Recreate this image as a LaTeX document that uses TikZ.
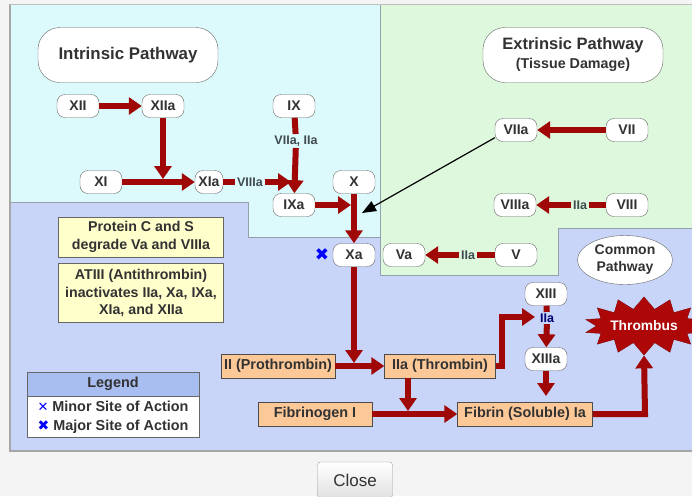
\documentclass[tikz,border=0pt]{standalone}
\usepackage{fontspec}
\setmainfont{Liberation Sans}
\newfontfamily\symfont{DejaVu Sans}
\usetikzlibrary{arrows.meta,shapes.geometric,shapes.symbols}

\definecolor{pagebg}{RGB}{244,244,244}
\definecolor{cyanbg}{RGB}{220,250,252}
\definecolor{greenbg}{RGB}{222,248,222}
\definecolor{bluebg}{RGB}{200,212,248}
\definecolor{legendhead}{RGB}{168,190,240}
\definecolor{noteyellow}{RGB}{255,255,204}
\definecolor{stageorange}{RGB}{252,200,152}
\definecolor{rxnred}{RGB}{160,8,8}
\definecolor{inkgray}{RGB}{50,50,50}
\definecolor{labelgray}{RGB}{64,74,80}
\definecolor{edgegray}{RGB}{150,160,170}

\tikzset{
  factor/.style={draw=black!60, fill=white, rounded corners=8pt, minimum width=42pt,
    minimum height=23pt, inner xsep=3pt, inner ysep=0pt, text=inkgray,
    font=\bfseries\fontsize{14}{16}\selectfont},
  title/.style={draw=black!60, fill=white, rounded corners=22pt, minimum width=180pt,
    minimum height=55pt, align=center, text=inkgray},
  note/.style={draw=black!60, fill=noteyellow, minimum width=165pt, align=center,
    inner ysep=2pt, text=inkgray, font=\bfseries\fontsize{14.2}{17.5}\selectfont},
  stage/.style={draw=black!70, fill=stageorange, minimum height=24pt, inner xsep=2pt,
    inner ysep=0pt, text=inkgray, font=\bfseries\fontsize{14.4}{16}\selectfont},
  via/.style={inner sep=1.5pt, text=labelgray, font=\bfseries\fontsize{12.5}{14}\selectfont},
  rxn/.style={draw=rxnred, line width=6pt, -{Triangle[width=17pt,length=13pt]}},
  rxnline/.style={draw=rxnred, line width=6pt},
  hint/.style={draw=black, line width=1.2pt, -{Triangle[width=11pt,length=14pt]}}
}

\begin{document}
\begin{tikzpicture}[x=1pt, y=-1pt]
  \useasboundingbox (0,0) rectangle (692,496);
  \fill[pagebg] (0,0) rectangle (692,496);

  % regions
  \fill[bluebg] (10,4) rectangle (700,451);
  \fill[cyanbg] (10,4) -- (380,4) -- (380,237) -- (248,237) -- (248,202) -- (10,202) -- cycle;
  \fill[greenbg] (380,4) -- (700,4) -- (700,228) -- (558,228) -- (558,275) -- (380,275) -- cycle;
  \draw[edgegray, line width=1pt] (10,202) -- (248,202) -- (248,237) -- (380,237);
  \draw[edgegray, line width=1pt] (380,4) -- (380,275) -- (558,275) -- (558,228) -- (700,228);
  \draw[black!35, line width=1.5pt] (10,4) -- (10,451) -- (700,451);
  \draw[black!25, line width=1pt] (10,4) -- (700,4);

  % titles
  \node[title, font=\bfseries\fontsize{16.9}{18}\selectfont] (intr) at (128,55) {Intrinsic Pathway};
  \node[title, font=\bfseries\fontsize{16.5}{19}\selectfont] (extr) at (573,55)
    {Extrinsic Pathway\\{\fontsize{14.3}{16}\selectfont(Tissue Damage)}};
  \node[ellipse, draw=black!60, fill=white, minimum width=95pt, minimum height=49pt,
    inner sep=0pt, align=center, text=inkgray,
    font=\bfseries\fontsize{14}{17}\selectfont] (common) at (625,260) {Common\\Pathway};

  % intrinsic factors
  \node[factor] (xii)  at (78,106)  {XII};
  \node[factor] (xiia) at (163,106) {XIIa};
  \node[factor] (ix)   at (294,106) {IX};
  \node[factor] (xi)   at (101,182) {XI};
  \node[factor, minimum width=28pt, inner xsep=1.5pt] (xia) at (209,182) {XIa};
  \node[factor] (x)    at (354,182) {X};
  \node[factor] (ixa)  at (294,205) {IXa};
  \node[factor] (xa)   at (354,255) {Xa};

  % extrinsic factors
  \node[factor] (viia)  at (516,130) {VIIa};
  \node[factor] (vii)   at (627,130) {VII};
  \node[factor] (viiia) at (515,205) {VIIIa};
  \node[factor] (viii)  at (627,205) {VIII};
  \node[factor] (va)    at (404,255) {Va};
  \node[factor] (v)     at (516,255) {V};

  % common pathway
  \node[factor] (xiii)  at (546,294) {XIII};
  \node[factor] (xiiia) at (546,359) {XIIIa};
  \node[stage, minimum width=114pt] (prothr) at (278,366) {II (Prothrombin)};
  \node[stage, minimum width=111pt] (thromb) at (440,366) {IIa (Thrombin)};
  \node[stage, minimum width=114pt] (fibgen) at (315,414) {Fibrinogen I};
  \node[stage, minimum width=135pt] (fibrin) at (525,414) {Fibrin (Soluble) Ia};
  \node[starburst, starburst points=14, starburst point height=12pt, random starburst=0,
    draw=rxnred!80!black, fill=rxnred!85!red, text=white, inner xsep=0pt, inner ysep=7pt,
    font=\bfseries\fontsize{13.8}{15}\selectfont] (clot) at (644,326) {Thrombus};

  % notes
  \node[note, minimum height=40pt] (protc) at (141,237) {Protein C and S\\degrade Va and VIIIa};
  \node[note, minimum height=59pt] (atiii) at (141,293)
    {ATIII (Antithrombin)\\inactivates IIa, Xa, IXa,\\XIa, and XIIa};

  % legend
  \node[draw=black!60, fill=legendhead, minimum width=172pt, minimum height=24pt,
    text=inkgray, font=\bfseries\fontsize{14.4}{16}\selectfont] (leghead) at (113,384) {Legend};
  \node[draw=black!60, fill=white, minimum width=172pt, minimum height=41pt, inner xsep=5pt,
    inner ysep=1pt, anchor=north, align=left, text=inkgray,
    font=\bfseries\fontsize{14.4}{19}\selectfont] (legbody) at (leghead.south)
    {{\symfont\mdseries\color{blue}\fontsize{13}{19}\selectfont ✕} Minor Site of Action\\
     {\symfont\color{blue}\fontsize{14}{19}\selectfont ✖} Major Site of Action};
  \node[text=blue, font=\symfont\fontsize{17}{17}\selectfont, inner sep=0pt] (xamark) at (322,255) {✖};

  % small labels
  \node[via, fill=cyanbg]  (lixa)   at (296,141) {VIIa, IIa};
  \node[via, fill=cyanbg]  (lviiia) at (250,182) {VIIIa};
  \node[via, fill=greenbg] (lviii)  at (580,205) {IIa};
  \node[via, fill=greenbg] (lv)     at (468,255) {IIa};
  \node[via, fill=bluebg, text=blue!45!black] (lxiii) at (547,318) {IIa};

  % junction points
  \coordinate (j1) at (163,179);
  \coordinate (j2) at (291,182);
  \coordinate (j3) at (351,205);
  \coordinate (j4) at (362,213);
  \coordinate (j5) at (354,363);
  \coordinate (j6) at (502,317);
  \coordinate (j7) at (535,317);
  \coordinate (j8) at (408,411);
  \coordinate (j9) at (645,414);
  \coordinate (j10) at (546,396);

  % intrinsic arrows
  \draw[rxn] (xii) -- (xiia);
  \draw[rxn] (xiia) -- (j1);
  \draw[rxn] (xi) -- (xia);
  \draw[rxnline] (xia) -- (lviiia);
  \draw[rxn] (lviiia) -- (j2);
  \draw[rxnline] (ix) -- (lixa);
  \draw[rxn] (lixa) -- (ixa);
  \draw[rxn] (ixa) -- (j3);
  \draw[rxn] (x) -- (xa);

  % extrinsic arrows
  \draw[rxn] (vii) -- (viia);
  \draw[hint] (viia.200) -- (j4);
  \draw[rxnline] (viii) -- (lviii);
  \draw[rxn] (lviii) -- (viiia);
  \draw[rxnline] (v) -- (lv);
  \draw[rxn] (lv) -- (va);

  % common arrows
  \draw[rxn] (xa) -- (j5);
  \draw[rxn] (prothr) -- (thromb);
  \draw[rxn] (thromb.east) -| (j6) -- (j7);
  \draw[rxnline] (xiii) -- (lxiii);
  \draw[rxn] (lxiii) -- (xiiia);
  \draw[rxn] (xiiia) -- (j10);
  \draw[rxn] (thromb.south -| j8) -- (j8);
  \draw[rxn] (fibgen) -- (fibrin);
  \draw[rxn] (fibrin.east) -- (j9) -- (clot.south);

  % close button
  \node[draw=black!40, rounded corners=3pt, top color=white, bottom color=black!12,
    minimum width=75pt, minimum height=36pt, text=inkgray,
    font=\fontsize{17}{19}\selectfont] (close) at (355,480) {Close};
\end{tikzpicture}
\end{document}
